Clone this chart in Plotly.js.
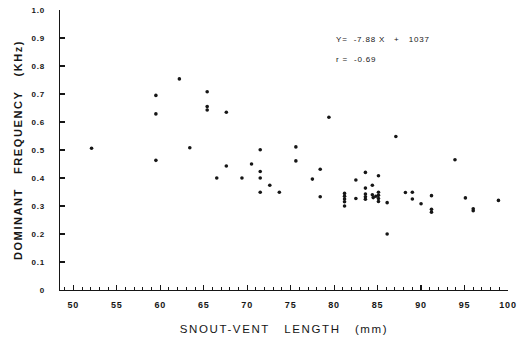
<!DOCTYPE html>
<html>
<head>
<meta charset="utf-8">
<script src="https://cdn.plot.ly/plotly-3.0.1.min.js"></script>
<style>
html, body { margin: 0; padding: 0; background: #fff; }
#chart { width: 528px; height: 342px; }
.xtitle, .ytitle { letter-spacing: 1.6px; }
.xtick text, .ytick text { letter-spacing: 0.8px; }
.annotation-text { letter-spacing: 0.8px; }
</style>
</head>
<body>
<div id="chart"></div>
<script>
// Snout-vent length (mm)
const svl = [
  52.1, 59.5, 59.5, 59.5, 62.2, 63.4, 65.4, 65.4, 65.4, 67.6, 67.6, 66.5,
  79.4, 71.5, 75.6, 75.6, 70.5, 71.5, 69.4, 71.5, 78.4, 77.5, 72.6, 71.5,
  73.7, 78.4, 82.5, 82.5, 81.2, 81.2, 81.2, 81.2, 81.2, 87.1, 93.9, 83.6,
  83.6, 83.6, 83.6, 83.6, 84.4, 84.4, 84.8, 84.5, 85.1, 85.1, 85.1, 85.1,
  85.1, 86.1, 86.1, 88.2, 89.0, 89.0, 90.0, 91.2, 91.2, 91.2, 95.1, 96.0,
  96.0, 98.9
];
// Dominant frequency (kHz)
const freq = [
  0.506, 0.695, 0.629, 0.463, 0.754, 0.508, 0.708, 0.655, 0.643, 0.635, 0.443, 0.400,
  0.617, 0.501, 0.511, 0.461, 0.450, 0.423, 0.400, 0.400, 0.431, 0.396, 0.374, 0.349,
  0.349, 0.333, 0.393, 0.327, 0.345, 0.335, 0.325, 0.315, 0.300, 0.548, 0.465, 0.420,
  0.364, 0.343, 0.333, 0.324, 0.374, 0.340, 0.335, 0.330, 0.408, 0.349, 0.338, 0.327,
  0.316, 0.312, 0.200, 0.348, 0.349, 0.325, 0.308, 0.337, 0.288, 0.278, 0.329, 0.290,
  0.283, 0.320
];
const xTickVals = [50, 55, 60, 65, 70, 75, 80, 85, 90, 95, 100];
const xTickText = ["50", "55", "60", "65", "70", "75", "80", "85", "90", "95", "100"];
const yTickVals = [0, 0.1, 0.2, 0.3, 0.4, 0.5, 0.6, 0.7, 0.8, 0.9, 1.0];
const yTickText = ["0", "0.1", "0.2", "0.3", "0.4", "0.5", "0.6", "0.7", "0.8", "0.9", "1.0"];
const equationText = "Y=\u00a0 -7.88 X \u00a0 + \u00a0 1037";
const rText = "r =\u00a0 -0.69";

const ink = "#161616";
const font = "'Liberation Sans', Arial, sans-serif";

const data = [{
  type: "scatter",
  mode: "markers",
  x: svl,
  y: freq,
  marker: { color: ink, size: 3.6 },
  hoverinfo: "skip"
}];

const layout = {
  width: 528,
  height: 342,
  margin: { l: 60, r: 20, t: 10, b: 52 },
  paper_bgcolor: "#fff",
  plot_bgcolor: "#fff",
  showlegend: false,
  font: { family: font, color: ink },
  xaxis: {
    range: [48.47, 100],
    showgrid: false,
    zeroline: false,
    showline: true,
    linecolor: ink,
    linewidth: 1.3,
    ticks: "inside",
    ticklen: 5,
    tickwidth: 1.2,
    tickcolor: ink,
    tickvals: xTickVals,
    ticktext: xTickText,
    ticklabelstandoff: 6,
    tickfont: { family: font, size: 9, color: ink, weight: "bold" },
    minor: { dtick: 1, tick0: 50, ticks: "inside", ticklen: 3, tickwidth: 1, tickcolor: ink, showgrid: false },
    title: {
      text: "SNOUT-VENT\u00a0\u00a0 LENGTH\u00a0\u00a0 (mm)",
      font: { family: font, size: 11.5, color: ink },
      standoff: 16
    },
    automargin: false
  },
  yaxis: {
    range: [0, 1.0],
    showgrid: false,
    zeroline: false,
    showline: true,
    linecolor: ink,
    linewidth: 1.3,
    ticks: "inside",
    ticklen: 5,
    tickwidth: 1.2,
    tickcolor: ink,
    tickvals: yTickVals,
    ticktext: yTickText,
    ticklabelstandoff: 12,
    tickfont: { family: font, size: 8, color: ink, weight: "bold" },
    title: {
      text: "<b>DOMINANT\u00a0\u00a0 FREQUENCY\u00a0\u00a0 (KHz)</b>",
      font: { family: font, size: 11, color: ink },
      standoff: 6
    },
    automargin: false
  },
  annotations: [
    { x: 80, y: 0.896, xref: "x", yref: "y", text: equationText, showarrow: false,
      xanchor: "left", yanchor: "middle", font: { family: font, size: 8, color: ink } },
    { x: 80, y: 0.825, xref: "x", yref: "y", text: rText, showarrow: false,
      xanchor: "left", yanchor: "middle", font: { family: font, size: 8, color: ink } }
  ]
};

Plotly.newPlot("chart", data, layout, { staticPlot: true, displayModeBar: false });
</script>
</body>
</html>
